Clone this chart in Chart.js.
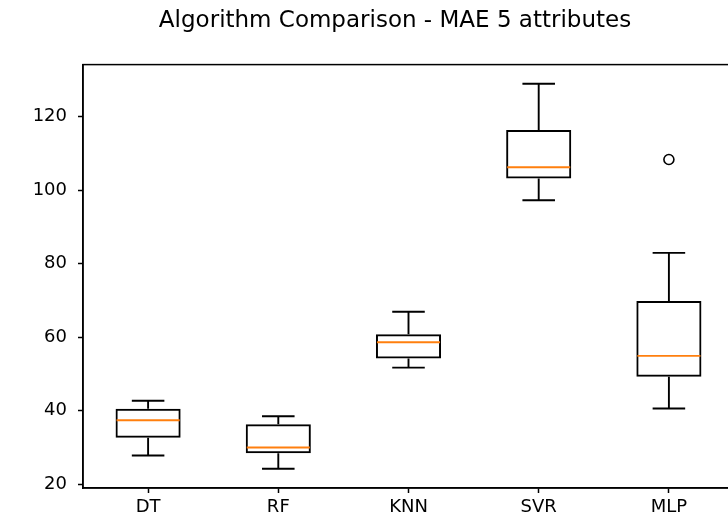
<!DOCTYPE html>
<html lang="en">
<head>
    <meta charset="UTF-8">
    <title>Algorithm Comparison - MAE 5 attributes</title>
    <script src="https://cdn.jsdelivr.net/npm/chart.js"></script>
    <style>
        html, body { margin: 0; padding: 0; background: #fff; overflow: hidden; }
    </style>
</head>
<body>
    <canvas id="boxChart" width="790" height="520"></canvas>

    <script>
        // Box plot values
        const categories = ['DT', 'RF', 'KNN', 'SVR', 'MLP'];
        const whiskerLow = [27.8, 24.2, 51.7, 97.2, 40.6];
        const q1 = [32.6, 28.4, 54.2, 103.1, 49.2];
        const median = [37.4, 30.0, 58.6, 106.2, 54.9];
        const q3 = [40.5, 36.3, 60.8, 116.3, 69.8];
        const whiskerHigh = [42.7, 38.5, 66.9, 128.9, 82.9];
        const outliers = [null, null, null, null, 108.3];
        const yTicks = [20, 40, 60, 80, 100, 120];

        const FONT = 'DejaVu Sans';

        // whiskers, caps and medians drawn from the bar positions + y scale
        const boxParts = {
            id: 'boxParts',
            afterDatasetsDraw(chart) {
                const ctx = chart.ctx;
                const y = chart.scales.y;
                const meta = chart.getDatasetMeta(0);
                ctx.save();
                meta.data.forEach((bar, i) => {
                    const cx = bar.x;
                    const half = bar.width / 2;
                    const cap = half / 2;
                    ctx.strokeStyle = '#000';
                    ctx.lineWidth = 1.9;
                    ctx.beginPath();
                    ctx.moveTo(cx, y.getPixelForValue(q1[i]));
                    ctx.lineTo(cx, y.getPixelForValue(whiskerLow[i]));
                    ctx.moveTo(cx, y.getPixelForValue(q3[i]));
                    ctx.lineTo(cx, y.getPixelForValue(whiskerHigh[i]));
                    ctx.moveTo(cx - cap, y.getPixelForValue(whiskerLow[i]));
                    ctx.lineTo(cx + cap, y.getPixelForValue(whiskerLow[i]));
                    ctx.moveTo(cx - cap, y.getPixelForValue(whiskerHigh[i]));
                    ctx.lineTo(cx + cap, y.getPixelForValue(whiskerHigh[i]));
                    ctx.stroke();
                    ctx.strokeStyle = '#ff7f0e';
                    ctx.beginPath();
                    ctx.moveTo(cx - half + 1, y.getPixelForValue(median[i]));
                    ctx.lineTo(cx + half - 1, y.getPixelForValue(median[i]));
                    ctx.stroke();
                });
                ctx.restore();
            }
        };

        // top and right spines
        const frame = {
            id: 'frame',
            afterDraw(chart) {
                const a = chart.chartArea;
                const ctx = chart.ctx;
                ctx.save();
                ctx.strokeStyle = '#000';
                ctx.lineWidth = 1.5;
                ctx.strokeRect(a.left, a.top, a.right - a.left, a.bottom - a.top);
                ctx.restore();
            }
        };

        // centre the title on the whole figure, not on the padded box
        const titleShift = {
            id: 'titleShift',
            afterLayout(chart) {
                if (chart.titleBlock) {
                    chart.titleBlock.left = 56;
                    chart.titleBlock.right = 734;
                }
            }
        };

        const ctx = document.getElementById('boxChart').getContext('2d');
        new Chart(ctx, {
            type: 'bar',
            data: {
                labels: categories,
                datasets: [{
                    label: 'box',
                    data: q1.map((v, i) => [v, q3[i]]),
                    backgroundColor: 'rgba(255,255,255,0)',
                    borderColor: '#000',
                    borderWidth: 2,
                    borderSkipped: false,
                    categoryPercentage: 1,
                    barPercentage: 0.5
                }, {
                    type: 'line',
                    label: 'outliers',
                    data: outliers,
                    showLine: false,
                    pointRadius: 5,
                    pointBorderWidth: 1.6,
                    pointBorderColor: '#000',
                    pointBackgroundColor: 'rgba(0,0,0,0)'
                }]
            },
            options: {
                responsive: false,
                animation: false,
                devicePixelRatio: 1,
                layout: { padding: { top: 0, right: 56, bottom: 0, left: 0 } },
                plugins: {
                    legend: { display: false },
                    tooltip: { enabled: false },
                    title: {
                        display: true,
                        text: 'Algorithm Comparison - MAE 5 attributes',
                        color: '#000',
                        font: { family: FONT, size: 23, weight: 'normal' },
                        padding: { top: 7, bottom: 30 }
                    }
                },
                scales: {
                    x: {
                        offset: true,
                        grid: { offset: false, drawOnChartArea: false, tickLength: 5, color: '#000', tickWidth: 1.5 },
                        border: { color: '#000', width: 1.5 },
                        ticks: { color: '#000', padding: 4, font: { family: FONT, size: 18 } },
                        afterFit: (s) => { s.height = 32; }
                    },
                    y: {
                        min: 18.97,
                        max: 134.1,
                        afterBuildTicks: (s) => { s.ticks = yTicks.map(v => ({ value: v })); },
                        grid: { drawOnChartArea: false, tickLength: 5, color: '#000', tickWidth: 1.5 },
                        border: { color: '#000', width: 1.5 },
                        ticks: { color: '#000', padding: 11, font: { family: FONT, size: 18 } },
                        afterFit: (s) => { s.width = 83; }
                    }
                }
            },
            plugins: [boxParts, frame, titleShift]
        });
    </script>
</body>
</html>
